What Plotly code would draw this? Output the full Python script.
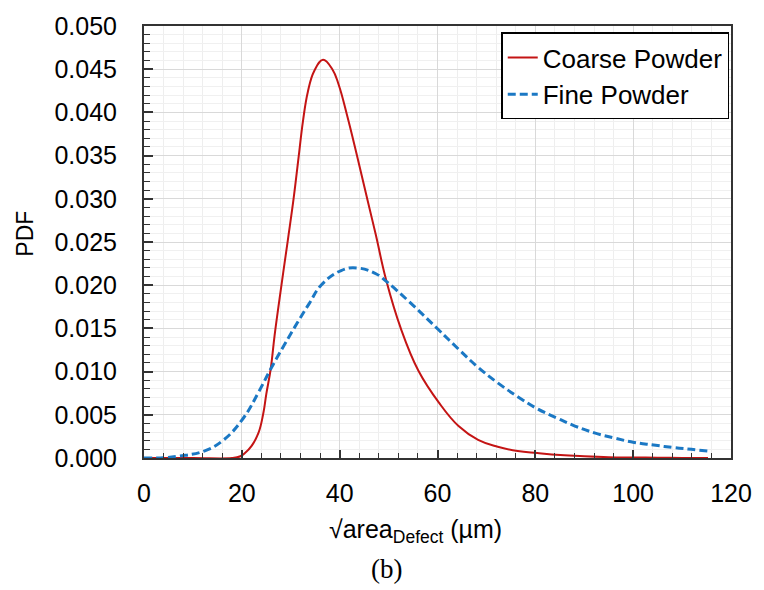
import plotly.graph_objects as go

# ---- data ----
coarse_x = [0, 10, 18, 19.7, 20.7, 22.0, 23.4, 24.4, 25.0, 25.9, 26.7, 27.7, 29.4, 30.6, 31.6,
            32.5, 33.5, 34.8, 36.6, 38.5, 39.8, 41.5, 43.5, 45.8, 47.4, 49.5, 52.5, 56.1, 60.3,
            64.3, 68.3, 72.3, 76.4, 80.4, 85.1, 90, 95, 100, 105, 110, 115.3]
coarse_pdf = [0, 0, 0, 0.0002, 0.0006, 0.0014, 0.0029, 0.0052, 0.0074, 0.0103, 0.0142, 0.0184,
              0.0252, 0.0301, 0.0348, 0.0390, 0.0424, 0.0448, 0.0461, 0.0450, 0.0432, 0.0397,
              0.0351, 0.0296, 0.0258, 0.0206, 0.0150, 0.0101, 0.0064, 0.0037, 0.0021, 0.0013,
              0.0008, 0.00057, 0.00034, 0.0002, 0.0001, 0.00006, 0.00003, 0.00001, 0]

fine_x = [0, 4, 7.2, 12.3, 16.3, 20.3, 23.4, 25.9, 28.7, 31.4, 33.8, 36.2, 40.3, 43.5, 47.5,
          49.4, 54.2, 60.1, 64.3, 68.3, 72.3, 76.4, 80.4, 84.5, 88.1, 92.1, 96.2, 100.2, 104.2,
          108.3, 111.9, 115.3]
fine_pdf = [0, 0.00003, 0.00022, 0.0008, 0.0021, 0.0046, 0.0076, 0.0103, 0.0131, 0.0157,
            0.0179, 0.0200, 0.0217, 0.0220, 0.0213, 0.0205, 0.0181, 0.0149, 0.0126, 0.0105,
            0.0087, 0.0071, 0.0057, 0.0046, 0.0037, 0.0029, 0.0023, 0.0018, 0.0015, 0.0012,
            0.0010, 0.0008]

series_names = ["Coarse Powder", "Fine Powder"]
x_ticks = [0, 20, 40, 60, 80, 100, 120]
y_ticks = [0.000, 0.005, 0.010, 0.015, 0.020, 0.025, 0.030, 0.035, 0.040, 0.045, 0.050]

FONT = "Liberation Sans, Arial, sans-serif"

fig = go.Figure()
fig.add_trace(go.Scatter(
    x=coarse_x, y=coarse_pdf, mode="lines", name=series_names[0],
    line=dict(color="#C41414", width=2, shape="spline", smoothing=1.2),
))
fig.add_trace(go.Scatter(
    x=fine_x, y=fine_pdf, mode="lines", name=series_names[1],
    line=dict(color="#1B78C4", width=3, dash="8px,4px", shape="spline", smoothing=1.2),
))

fig.update_layout(
    width=764, height=590,
    margin=dict(l=144, r=24, t=17, b=132),
    paper_bgcolor="white", plot_bgcolor="white",
    font=dict(family=FONT, size=24, color="black"),
    showlegend=True,
    legend=dict(
        x=0.997, y=0.985, xanchor="right", yanchor="top",
        bgcolor="white", bordercolor="black", borderwidth=1.5,
        font=dict(family=FONT, size=26, color="black"),
        tracegroupgap=0, itemwidth=30,
    ),
)

fig.update_xaxes(
    range=[0, 120], tickvals=x_ticks, ticktext=[str(v) for v in x_ticks],
    showline=True, linecolor="#333333", linewidth=2, mirror=True,
    ticks="inside", ticklen=8, tickcolor="#333333", tickwidth=1.5,
    ticklabelstandoff=12,
    tickfont=dict(family=FONT, size=25, color="black"),
    showgrid=True, gridcolor="#d9d9d9", gridwidth=1,
    minor=dict(dtick=4, ticks="inside", ticklen=5, tickcolor="#333333", tickwidth=1.2,
               showgrid=True, gridcolor="#eeeeee", gridwidth=1),
    zeroline=False,
)
fig.update_yaxes(
    range=[0, 0.050], tickvals=y_ticks, ticktext=[f"{v:.3f}" for v in y_ticks],
    showline=True, linecolor="#333333", linewidth=2, mirror=True,
    ticks="inside", ticklen=9, tickcolor="#333333", tickwidth=1.5,
    ticklabelstandoff=20,
    tickfont=dict(family=FONT, size=25, color="black"),
    showgrid=True, gridcolor="#d9d9d9", gridwidth=1,
    minor=dict(dtick=0.001, ticks="inside", ticklen=6, tickcolor="#333333", tickwidth=1.2,
               showgrid=True, gridcolor="#f0f0f0", gridwidth=1),
    zeroline=False,
)

# axis titles and panel label
fig.add_annotation(
    text="√area<sub>Defect</sub> (µm)", xref="paper", yref="paper",
    x=0.463, y=-0.17, xanchor="center", yanchor="middle", showarrow=False,
    font=dict(family=FONT, size=25, color="black"),
)
fig.add_annotation(
    text="PDF", xref="paper", yref="paper", textangle=-90,
    x=-0.203, y=0.519, xanchor="center", yanchor="middle", showarrow=False,
    font=dict(family=FONT, size=23, color="black"),
)
fig.add_annotation(
    text="(b)", xref="paper", yref="paper",
    x=0.413, y=-0.258, xanchor="center", yanchor="middle", showarrow=False,
    font=dict(family="Liberation Serif, Times New Roman, serif", size=27, color="black"),
)

fig.write_html("out.html")
